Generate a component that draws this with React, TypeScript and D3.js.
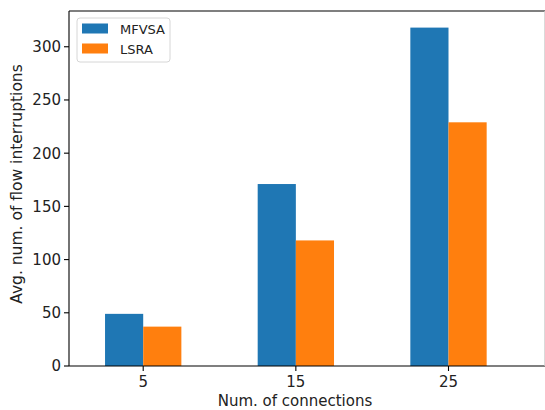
import React from 'react';
import * as d3 from 'd3';

// Values
const connections = ['5', '15', '25'];
const mfvsa = [49, 171, 318];
const lsra = [37, 118, 229];
const yTicks = [0, 50, 100, 150, 200, 250, 300];
const seriesNames = ['MFVSA', 'LSRA'];
const seriesColors = ['#1f77b4', '#ff7f0e'];

const W = 545;
const H = 410;
const left = 69;
const right = 545;
const top = 11;
const bottom = 366;
const font = '"DejaVu Sans", sans-serif';

export default function App() {
  const x = d3.scaleLinear().domain([0, 2]).range([143.2, 448.5]);
  const y = d3.scaleLinear().domain([0, 333.6]).range([bottom, top]);
  const barW = x(0.25) - x(0);
  const series = [mfvsa, lsra];

  return (
    <svg
      width={W}
      height={H}
      style={{ position: 'absolute', left: 0, top: 0, background: '#fff' }}
      fontFamily={font}
    >
      {/* bars */}
      {series.map((vals, s) =>
        vals.map((v, i) => (
          <rect
            key={`${s}-${i}`}
            x={x(i) + (s === 0 ? -barW : 0)}
            y={y(v)}
            width={barW}
            height={y(0) - y(v)}
            fill={seriesColors[s]}
          />
        ))
      )}

      {/* spines (right one falls at the cropped edge) */}
      <line x1={left} x2={left} y1={top} y2={bottom} stroke="#000" strokeWidth={1.1} />
      <line x1={left} x2={right} y1={bottom} y2={bottom} stroke="#000" strokeWidth={1.1} />
      <line x1={left} x2={right} y1={top} y2={top} stroke="#000" strokeWidth={1.1} />
      <line x1={544.6} x2={544.6} y1={top} y2={bottom} stroke="#ccc" strokeWidth={0.8} />

      {/* y axis ticks */}
      {yTicks.map(t => (
        <g key={t}>
          <line x1={left - 5} x2={left} y1={y(t)} y2={y(t)} stroke="#000" strokeWidth={1.1} />
          <text x={left - 8} y={y(t)} dy="0.36em" textAnchor="end" fontSize={15} fill="#222">
            {t}
          </text>
        </g>
      ))}

      {/* x axis ticks */}
      {connections.map((c, i) => (
        <g key={c}>
          <line x1={x(i)} x2={x(i)} y1={bottom} y2={bottom + 5} stroke="#000" strokeWidth={1.1} />
          <text x={x(i)} y={387} textAnchor="middle" fontSize={15} fill="#222">
            {c}
          </text>
        </g>
      ))}

      {/* axis labels */}
      <text x={295} y={406} textAnchor="middle" fontSize={15} fill="#222">
        Num. of connections
      </text>
      <text
        transform="translate(22,184) rotate(-90)"
        textAnchor="middle"
        fontSize={15.5}
        fill="#222"
      >
        Avg. num. of flow interruptions
      </text>

      {/* legend */}
      <rect x={77} y={18} width={93} height={44} rx={3} fill="#fff" fillOpacity={0.8} stroke="#d6d6d6" />
      {seriesNames.map((n, i) => (
        <g key={n}>
          <rect x={82} y={23.5 + i * 20} width={26} height={10} fill={seriesColors[i]} />
          <text x={120} y={33.5 + i * 20} fontSize={13} fill="#222">
            {n}
          </text>
        </g>
      ))}
    </svg>
  );
}
